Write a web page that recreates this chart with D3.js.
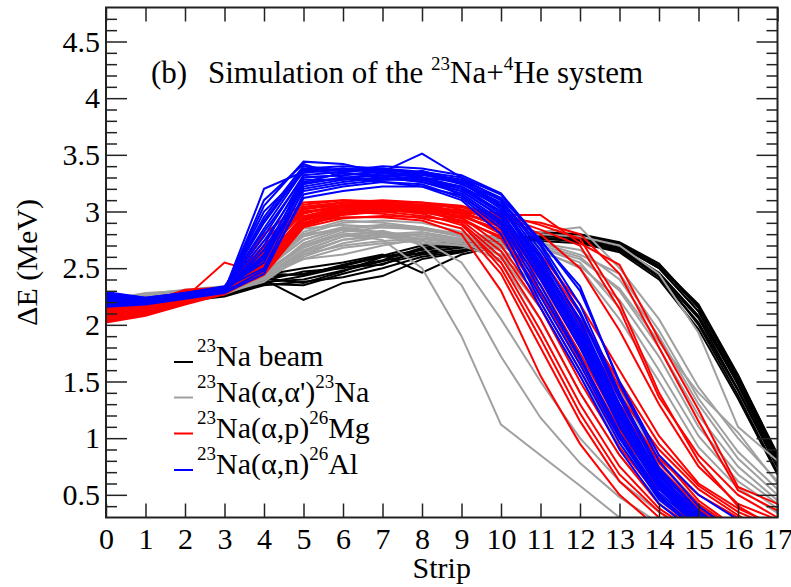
<!DOCTYPE html>
<html>
<head>
<meta charset="utf-8">
<script src="https://cdn.jsdelivr.net/npm/d3@7"></script>
<style>
  body { margin: 0; background: #fff; }
</style>
</head>
<body>
<svg id="chart" width="791" height="587"></svg>
<script>
// Strip numbers along the detector
const strips = [0, 1, 2, 3, 4, 5, 6, 7, 8, 9, 10, 11, 12, 13, 14, 15, 16, 17];
const xTickLabels = ["0","1","2","3","4","5","6","7","8","9","10","11","12","13","14","15","16","17"];
const yTickValues = [0.5, 1, 1.5, 2, 2.5, 3, 3.5, 4, 4.5];
const yTickLabels = ["0.5", "1", "1.5", "2", "2.5", "3", "3.5", "4", "4.5"];

// Energy loss per strip (MeV), one row per simulated event
const beamTraces = [
  [2.12,2.18,2.24,2.27,2.38,2.40,2.48,2.56,2.64,2.68,2.74,2.78,2.77,2.70,2.50,2.12,1.50,0.80],
  [2.18,2.22,2.27,2.30,2.42,2.45,2.52,2.60,2.66,2.70,2.76,2.80,2.78,2.72,2.52,2.15,1.55,0.86],
  [2.10,2.16,2.22,2.26,2.36,2.35,2.45,2.54,2.62,2.66,2.72,2.76,2.74,2.66,2.42,2.02,1.42,0.74],
  [2.15,2.20,2.25,2.29,2.40,2.22,2.37,2.43,2.58,2.64,2.74,2.79,2.76,2.68,2.46,2.08,1.48,0.78],
  [2.20,2.24,2.28,2.31,2.44,2.50,2.55,2.62,2.46,2.62,2.70,2.76,2.75,2.67,2.45,2.00,1.38,0.70],
  [2.14,2.21,2.26,2.28,2.39,2.47,2.50,2.57,2.68,2.72,2.78,2.82,2.80,2.73,2.54,2.16,1.52,0.82],
  [2.08,2.15,2.21,2.25,2.35,2.38,2.42,2.50,2.60,2.65,2.70,2.74,2.72,2.64,2.40,1.96,1.35,0.68],
  [2.22,2.26,2.30,2.32,2.45,2.44,2.53,2.61,2.70,2.74,2.79,2.81,2.78,2.70,2.50,2.12,1.47,0.77],
  [2.16,2.19,2.24,2.27,2.41,2.37,2.47,2.60,2.63,2.69,2.75,2.77,2.73,2.65,2.44,2.06,1.43,0.75],
  [2.11,2.17,2.23,2.28,2.37,2.43,2.51,2.53,2.67,2.71,2.77,2.80,2.79,2.71,2.52,2.18,1.56,0.84]
];
const inelasticTraces = [
  [2.15,2.22,2.27,2.30,2.45,2.70,2.80,2.75,2.50,1.90,1.12,0.85,0.58,0.30,0.10,0.00,0.00,0.00],
  [2.20,2.25,2.30,2.32,2.50,2.75,2.85,2.82,2.70,2.35,1.72,1.18,0.78,0.48,0.25,0.10,0.00,0.00],
  [2.12,2.20,2.25,2.28,2.42,2.65,2.78,2.83,2.75,2.55,2.05,1.50,1.00,0.62,0.35,0.15,0.00,0.00],
  [2.18,2.24,2.28,2.31,2.48,2.80,2.90,2.92,2.90,2.82,2.60,2.15,1.55,0.95,0.50,0.25,0.10,0.00],
  [2.10,2.18,2.24,2.27,2.40,2.60,2.72,2.78,2.80,2.75,2.55,2.05,1.40,0.85,0.45,0.20,0.00,0.00],
  [2.22,2.28,2.30,2.33,2.52,2.85,2.88,2.86,2.85,2.80,2.65,2.30,1.75,1.15,0.62,0.32,0.10,0.00],
  [2.14,2.21,2.26,2.29,2.44,2.72,2.84,2.88,2.86,2.78,2.68,2.40,1.92,1.30,0.75,0.38,0.15,0.00],
  [2.16,2.23,2.27,2.30,2.46,2.58,2.62,2.70,2.76,2.72,2.62,2.25,1.65,1.05,0.55,0.28,0.10,0.00],
  [2.19,2.25,2.29,2.32,2.50,2.78,2.86,2.78,2.72,2.70,2.58,2.35,1.85,1.25,0.70,0.35,0.12,0.00],
  [2.11,2.19,2.25,2.28,2.38,2.62,2.75,2.80,2.82,2.76,2.70,2.50,2.05,1.42,0.80,0.42,0.20,0.00],
  [2.17,2.24,2.28,2.31,2.47,2.70,2.82,2.86,2.84,2.80,2.78,2.82,2.86,2.50,2.05,1.45,1.00,0.62],
  [2.13,2.21,2.26,2.29,2.43,2.66,2.78,2.80,2.80,2.76,2.72,2.70,2.60,2.30,1.80,1.20,0.75,0.45],
  [2.20,2.26,2.30,2.33,2.50,2.82,2.92,2.90,2.86,2.80,2.75,2.72,2.62,2.45,1.95,1.35,0.88,0.55],
  [2.15,2.22,2.27,2.30,2.45,2.68,2.80,2.82,2.78,2.74,2.72,2.68,2.55,2.15,1.60,1.02,0.62,0.38],
  [2.12,2.20,2.25,2.28,2.41,2.64,2.75,2.78,2.76,2.72,2.70,2.66,2.50,2.05,1.50,0.92,0.56,0.34],
  [2.16,2.22,2.27,2.30,2.44,2.62,2.70,2.74,2.76,2.74,2.78,2.80,2.78,2.70,2.45,1.93,1.10,0.80],
  [2.18,2.25,2.29,2.31,2.48,2.75,2.86,2.88,2.84,2.78,2.74,2.72,2.66,2.40,1.90,1.30,0.82,0.50],
  [2.14,2.21,2.26,2.29,2.42,2.58,2.68,2.72,2.74,2.70,2.68,2.64,2.52,2.22,1.72,1.10,0.68,0.42],
  [2.21,2.27,2.31,2.34,2.52,2.80,2.84,2.80,2.76,2.72,2.70,2.68,2.58,2.32,1.85,1.40,1.05,0.60]
];
const protonTraces = [
  [2.05,2.10,2.20,2.28,2.55,2.90,2.95,2.95,2.92,2.80,2.30,1.55,0.95,0.50,0.20,0.00,0.00,0.00],
  [2.08,2.12,2.22,2.30,2.60,2.95,3.00,2.98,2.94,2.85,2.45,1.80,1.15,0.62,0.30,0.10,0.00,0.00],
  [2.12,2.15,2.25,2.31,2.48,2.88,2.98,3.02,2.98,2.88,2.55,1.95,1.30,0.75,0.38,0.15,0.00,0.00],
  [2.02,2.08,2.18,2.27,2.70,3.00,3.02,3.00,2.96,2.90,2.60,2.05,1.40,0.85,0.42,0.18,0.00,0.00],
  [2.10,2.14,2.24,2.55,2.45,2.92,3.05,3.04,3.00,2.92,2.65,2.15,1.50,0.92,0.48,0.22,0.00,0.00],
  [2.15,2.18,2.30,2.32,2.52,2.98,3.06,3.05,3.02,2.95,2.70,2.20,1.60,1.00,0.55,0.25,0.05,0.00],
  [2.06,2.11,2.21,2.29,2.62,3.02,3.08,3.06,3.02,2.90,2.50,1.88,1.22,0.68,0.35,0.12,0.00,0.00],
  [2.09,2.13,2.23,2.30,2.58,2.96,3.04,3.05,3.04,2.98,2.80,2.35,1.75,1.12,0.62,0.32,0.10,0.00],
  [2.13,2.16,2.27,2.31,2.66,3.04,3.08,3.08,3.06,3.00,2.86,2.45,1.85,1.22,0.70,0.38,0.15,0.00],
  [2.04,2.09,2.19,2.28,2.44,2.86,2.94,2.96,2.95,2.92,2.78,2.30,1.70,1.08,0.58,0.30,0.08,0.00],
  [2.11,2.15,2.26,2.31,2.74,3.06,3.10,3.09,3.08,3.02,2.90,2.55,2.00,1.35,0.78,0.42,0.18,0.00],
  [2.07,2.12,2.22,2.29,2.50,2.90,3.00,3.02,3.00,2.96,2.84,2.40,1.80,1.18,0.66,0.35,0.12,0.00],
  [2.14,2.17,2.29,2.32,2.80,3.08,3.10,3.08,3.06,3.04,2.92,2.60,2.10,1.45,0.85,0.45,0.20,0.00],
  [2.03,2.09,2.20,2.27,2.46,2.87,2.97,3.00,3.02,2.98,2.88,2.50,1.92,1.28,0.74,0.40,0.16,0.00],
  [2.10,2.14,2.24,2.30,2.64,3.00,3.04,3.03,3.01,2.96,2.82,2.42,1.88,1.30,0.82,0.50,0.30,0.15],
  [2.16,2.19,2.31,2.33,2.56,2.94,3.02,3.06,3.05,3.00,2.86,2.48,1.95,1.38,0.90,0.55,0.32,0.12],
  [2.06,2.11,2.21,2.28,2.52,2.92,3.00,3.01,2.99,2.94,2.76,2.28,1.68,1.05,0.60,0.36,0.20,0.05],
  [2.12,2.16,2.26,2.30,2.68,3.02,3.06,3.07,3.04,2.99,2.87,2.52,2.05,1.50,0.95,0.58,0.35,0.20],
  [2.08,2.12,2.23,2.29,2.48,2.89,2.99,3.02,3.02,2.98,2.90,2.62,2.18,1.60,1.02,0.60,0.38,0.22],
  [2.10,2.14,2.24,2.30,2.58,2.95,3.02,3.04,3.05,3.00,2.97,2.97,2.72,2.53,1.87,1.25,0.57,0.42],
  [2.05,2.10,2.21,2.28,2.50,2.90,2.98,3.00,3.02,3.00,2.94,2.90,2.80,2.45,1.80,1.15,0.54,0.36],
  [2.12,2.16,2.27,2.31,2.62,2.99,3.05,3.06,3.06,3.04,2.98,2.88,2.76,2.20,1.40,0.80,0.40,0.20],
  [2.08,2.12,2.23,2.29,2.54,2.93,3.01,3.03,3.03,3.01,2.96,2.84,2.70,2.14,1.36,0.85,0.50,0.30],
  [2.14,2.18,2.28,2.32,2.70,3.04,3.08,3.10,3.08,3.05,2.95,2.80,2.50,1.95,1.30,0.75,0.42,0.28]
];
const neutronTraces = [
  [2.22,2.20,2.25,2.30,3.20,3.35,3.38,3.36,3.30,3.20,3.00,2.50,1.90,1.20,0.60,0.25,0.00,0.00],
  [2.25,2.22,2.27,2.32,2.95,3.40,3.36,3.38,3.34,3.25,3.05,2.55,1.95,1.25,0.62,0.28,0.00,0.00],
  [2.18,2.19,2.24,2.29,2.70,3.30,3.32,3.35,3.51,3.30,3.10,2.70,2.10,1.35,0.70,0.30,0.05,0.00],
  [2.28,2.24,2.28,2.33,2.55,3.25,3.30,3.32,3.28,3.18,2.95,2.40,1.80,1.10,0.55,0.22,0.00,0.00],
  [2.20,2.21,2.26,2.31,3.05,3.44,3.42,3.34,3.32,3.28,3.12,2.75,2.30,1.50,0.85,0.50,0.28,0.00],
  [2.16,2.18,2.23,2.28,2.45,3.15,3.22,3.26,3.24,3.12,2.85,2.25,1.65,1.00,0.48,0.20,0.00,0.00],
  [2.26,2.23,2.27,2.31,2.85,3.36,3.34,3.30,3.36,3.26,3.02,2.60,2.05,1.30,0.66,0.30,0.05,0.00],
  [2.24,2.22,2.26,2.30,2.62,3.28,3.28,3.34,3.30,3.22,3.00,2.45,1.85,1.15,0.58,0.25,0.00,0.00],
  [2.19,2.20,2.25,2.30,3.10,3.42,3.30,3.26,3.22,3.10,2.80,2.15,1.55,0.90,0.42,0.15,0.00,0.00],
  [2.21,2.21,2.26,2.32,2.78,3.32,3.35,3.37,3.33,3.24,3.08,2.62,2.02,1.28,0.68,0.32,0.08,0.00],
  [2.27,2.23,2.28,2.33,2.50,3.20,3.26,3.30,3.26,3.16,2.92,2.35,1.72,1.05,0.52,0.22,0.00,0.00],
  [2.23,2.22,2.27,2.31,2.92,3.38,3.40,3.38,3.35,3.30,3.15,2.72,2.18,1.40,0.72,0.34,0.10,0.00],
  [2.17,2.19,2.24,2.29,2.66,3.24,3.30,3.28,3.28,3.20,2.98,2.48,1.88,1.18,0.60,0.26,0.00,0.00],
  [2.25,2.22,2.27,2.32,3.00,3.34,3.38,3.34,3.30,3.14,2.90,2.30,1.70,1.02,0.50,0.18,0.00,0.00],
  [2.20,2.21,2.25,2.30,2.58,3.18,3.24,3.28,3.30,3.26,3.10,2.66,2.12,1.38,0.74,0.36,0.12,0.00],
  [2.29,2.24,2.28,2.34,2.82,3.30,3.32,3.36,3.34,3.28,3.06,2.58,1.98,1.26,0.64,0.28,0.05,0.00],
  [2.18,2.20,2.24,2.29,2.48,3.12,3.18,3.22,3.22,3.14,2.88,2.20,1.60,0.96,0.46,0.18,0.00,0.00],
  [2.22,2.21,2.26,2.31,2.74,3.26,3.34,3.32,3.28,3.22,3.04,2.52,1.92,1.22,0.62,0.27,0.05,0.00],
  [2.24,2.23,2.27,2.32,2.90,3.37,3.36,3.40,3.38,3.32,3.16,2.74,2.34,1.48,0.80,0.40,0.15,0.00],
  [2.19,2.20,2.25,2.30,2.60,3.22,3.28,3.30,3.26,3.18,2.96,2.42,1.82,1.12,0.56,0.24,0.00,0.00]
];

const series = [
  { traces: beamTraces,      color: "#000000", label: [["23", true], ["Na beam", false]] },
  { traces: inelasticTraces, color: "#a0a0a0", label: [["23", true], ["Na(\u03b1,\u03b1')", false], ["23", true], ["Na", false]] },
  { traces: protonTraces,    color: "#ff0000", label: [["23", true], ["Na(\u03b1,p)", false], ["26", true], ["Mg", false]] },
  { traces: neutronTraces,   color: "#0000ff", label: [["23", true], ["Na(\u03b1,n)", false], ["26", true], ["Al", false]] }
];

const FONT = "'Liberation Serif', 'Times New Roman', Tinos, 'DejaVu Serif', serif";

const svg = d3.select("#chart").attr("font-family", FONT);
const margin = { left: 106, right: 13.5, top: 7.5, bottom: 69.5 };
const W = 791, H = 587;
const x = d3.scaleLinear().domain([0, 17]).range([margin.left, W - margin.right]);
const y = d3.scaleLinear().domain([0.3, 4.8]).range([H - margin.bottom, margin.top]);

svg.append("rect").attr("width", W).attr("height", H).attr("fill", "#fff");

svg.append("clipPath").attr("id", "plotClip")
  .append("rect")
  .attr("x", x(0)).attr("y", y(4.8))
  .attr("width", x(17) - x(0)).attr("height", y(0.3) - y(4.8));

const line = d3.line()
  .x((d, i) => x(strips[i]))
  .y(d => y(d));

const plot = svg.append("g").attr("clip-path", "url(#plotClip)");
series.forEach(s => {
  plot.append("g")
    .selectAll("path")
    .data(s.traces)
    .join("path")
    .attr("d", line)
    .attr("fill", "none")
    .attr("stroke", s.color)
    .attr("stroke-width", 2)
    .attr("stroke-linejoin", "miter");
});

// Inward ticks on all four sides
const axisColor = "#222";
const yMinor = d3.range(0.4, 4.75, 0.1).map(v => Math.round(v * 10) / 10)
  .filter(v => !yTickValues.includes(v));

const axes = svg.append("g");
axes.append("g").attr("transform", `translate(0,${y(0.3)})`)
  .call(d3.axisBottom(x).tickValues(strips).tickSize(-14).tickFormat((d, i) => xTickLabels[i]).tickPadding(10));
axes.append("g").attr("transform", `translate(0,${y(4.8)})`)
  .call(d3.axisTop(x).tickValues(strips).tickSize(-14).tickFormat(""));
axes.append("g").attr("transform", `translate(${x(0)},0)`)
  .call(d3.axisLeft(y).tickValues(yTickValues).tickSize(-21).tickFormat((d, i) => yTickLabels[i]).tickPadding(6));
axes.append("g").attr("transform", `translate(${x(0)},0)`)
  .call(d3.axisLeft(y).tickValues(yMinor).tickSize(-11).tickFormat(""));
axes.append("g").attr("transform", `translate(${x(17)},0)`)
  .call(d3.axisRight(y).tickValues(yTickValues).tickSize(-21).tickFormat(""));
axes.append("g").attr("transform", `translate(${x(17)},0)`)
  .call(d3.axisRight(y).tickValues(yMinor).tickSize(-11).tickFormat(""));

axes.selectAll("g").attr("font-family", FONT).attr("font-size", 30);
axes.selectAll(".domain").remove();
axes.selectAll(".tick line").attr("stroke", axisColor).attr("stroke-width", 1.5);
axes.selectAll(".tick text").attr("fill", "#000");

svg.append("rect")
  .attr("x", x(0)).attr("y", y(4.8))
  .attr("width", x(17) - x(0)).attr("height", y(0.3) - y(4.8))
  .attr("fill", "none").attr("stroke", axisColor).attr("stroke-width", 2);

// Axis titles
svg.append("text")
  .attr("x", (x(0) + x(17)) / 2).attr("y", 578)
  .attr("text-anchor", "middle").attr("font-size", 30)
  .text("Strip");
svg.append("text")
  .attr("transform", `translate(37,${(y(0.3) + y(4.8)) / 2}) rotate(-90)`)
  .attr("text-anchor", "middle").attr("font-size", 30)
  .text("\u0394E (MeV)");

// Text with superscript runs
function richText(g, parts, size, supSize, rise) {
  const t = g.append("text").attr("font-size", size);
  let raised = false;
  parts.forEach(([str, sup]) => {
    const ts = t.append("tspan").text(str);
    if (sup && !raised) { ts.attr("dy", -rise).attr("font-size", supSize); raised = true; }
    else if (sup) { ts.attr("font-size", supSize); }
    else if (raised) { ts.attr("dy", rise); raised = false; }
  });
  return t;
}

// Panel title
svg.append("text").attr("x", 151).attr("y", 83).attr("font-size", 31).text("(b)");
richText(svg.append("g").attr("transform", "translate(208,83)"),
  [["Simulation of the ", false], ["23", true], ["Na+", false], ["4", true], ["He system", false]],
  31, 19, 13);

// Legend
const legendY = [362, 397.5, 433.5, 470];
series.forEach((s, i) => {
  const g = svg.append("g").attr("transform", `translate(0,${legendY[i]})`);
  g.append("line").attr("x1", 174).attr("x2", 193).attr("y1", 0).attr("y2", 0)
    .attr("stroke", s.color).attr("stroke-width", 2);
  richText(g.append("g").attr("transform", "translate(197,4)"), s.label, 30, 19, 14);
});
</script>
</body>
</html>
